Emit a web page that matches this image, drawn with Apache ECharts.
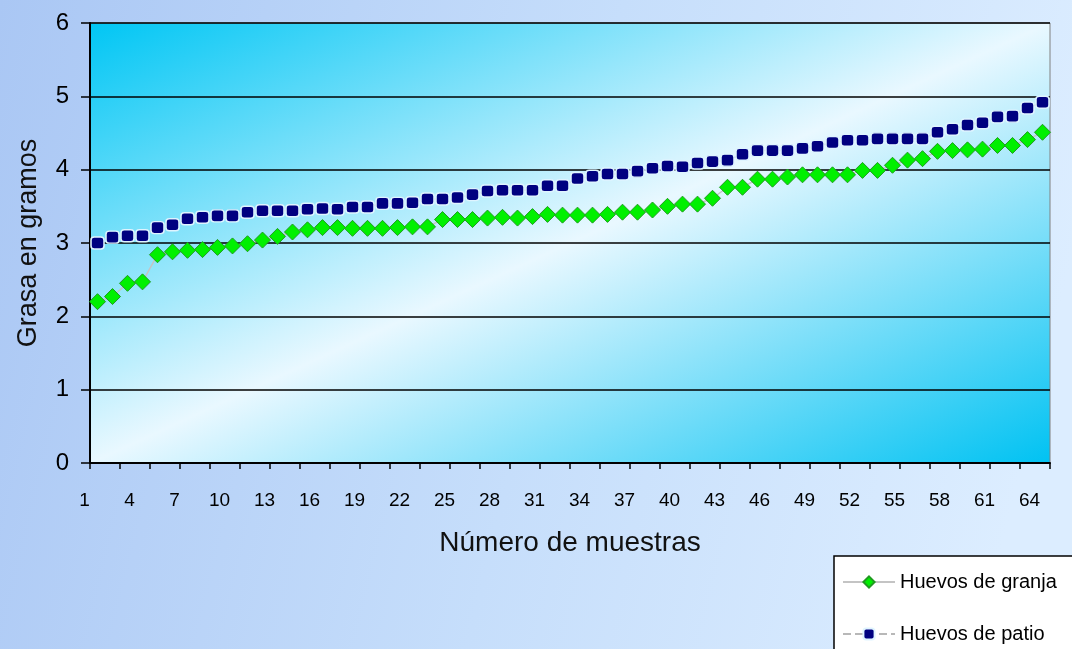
<!DOCTYPE html>
<html>
<head>
<meta charset="utf-8">
<title>Grasa en huevos</title>
<script src="https://cdn.jsdelivr.net/npm/echarts@6/dist/echarts.min.js"></script>
<style>
  html, body { margin: 0; padding: 0; background: #c4dcfa; }
  #chart { width: 1072px; height: 649px; }
</style>
</head>
<body>
<div id="chart"></div>
<script>
// Sample numbers (x axis categories)
const muestras = [
  1, 2, 3, 4, 5, 6, 7, 8, 9, 10, 11, 12, 13, 14, 15, 16,
  17, 18, 19, 20, 21, 22, 23, 24, 25, 26, 27, 28, 29, 30, 31, 32,
  33, 34, 35, 36, 37, 38, 39, 40, 41, 42, 43, 44, 45, 46, 47, 48,
  49, 50, 51, 52, 53, 54, 55, 56, 57, 58, 59, 60, 61, 62, 63, 64
];

// Fat content in grams, farm eggs (sorted)
const huevosGranja = [
  2.20, 2.27, 2.45, 2.47, 2.84, 2.88, 2.90, 2.91, 2.94, 2.96, 2.99, 3.04, 3.09, 3.15, 3.18, 3.21,
  3.21, 3.20, 3.20, 3.20, 3.21, 3.22, 3.22, 3.32, 3.32, 3.32, 3.34, 3.35, 3.34, 3.36, 3.39, 3.38,
  3.38, 3.38, 3.39, 3.42, 3.42, 3.45, 3.50, 3.53, 3.53, 3.61, 3.76, 3.76, 3.87, 3.87, 3.90, 3.93,
  3.93, 3.93, 3.93, 3.99, 3.99, 4.06, 4.13, 4.15, 4.25, 4.26, 4.27, 4.28, 4.33, 4.33, 4.41, 4.51
];

// Fat content in grams, backyard eggs (sorted)
const huevosPatio = [
  3.00, 3.08, 3.10, 3.10, 3.21, 3.25, 3.33, 3.35, 3.37, 3.37, 3.42, 3.44, 3.44, 3.44, 3.46, 3.47,
  3.46, 3.49, 3.49, 3.54, 3.54, 3.55, 3.60, 3.60, 3.62, 3.66, 3.71, 3.72, 3.72, 3.72, 3.78, 3.78,
  3.88, 3.91, 3.94, 3.94, 3.98, 4.02, 4.05, 4.04, 4.09, 4.11, 4.13, 4.21, 4.26, 4.26, 4.26, 4.29,
  4.32, 4.37, 4.40, 4.40, 4.42, 4.42, 4.42, 4.42, 4.51, 4.55, 4.61, 4.64, 4.72, 4.73, 4.84, 4.92
];

// Y axis ticks
const yTicks = [0, 1, 2, 3, 4, 5, 6];

const FONT = "'Liberation Sans', Arial, sans-serif";
const chart = echarts.init(document.getElementById('chart'), null, { renderer: 'canvas' });

chart.setOption({
  animation: false,
  backgroundColor: new echarts.graphic.LinearGradient(0, 0, 1, 0.4, [
    { offset: 0, color: '#aac7f4' },
    { offset: 0.55, color: '#c6defb' },
    { offset: 1, color: '#dcedff' }
  ]),
  textStyle: { fontFamily: FONT },
  grid: {
    left: 90, right: 22, top: 23, bottom: 186,
    outerBoundsMode: 'none',
    containLabel: false,
    show: true,
    borderColor: '#808080',
    borderWidth: 1,
    backgroundColor: new echarts.graphic.LinearGradient(0.326, -0.326, 0.674, 1.326, [
      { offset: 0, color: '#00c6f4' },
      { offset: 0.5, color: '#e9f8ff' },
      { offset: 1, color: '#00c2f2' }
    ])
  },
  legend: {
    orient: 'vertical',
    left: 834,
    top: 556,
    height: 140,
    backgroundColor: '#ffffff',
    borderColor: '#000000',
    borderWidth: 1.5,
    padding: [16, 30, 14, 8],
    itemWidth: 52,
    itemHeight: 14,
    itemGap: 32,
    textStyle: { fontSize: 20, color: '#000', fontFamily: FONT },
    data: ['Huevos de granja', 'Huevos de patio']
  },
  xAxis: {
    type: 'category',
    data: muestras,
    boundaryGap: true,
    name: 'Número de muestras',
    nameLocation: 'middle',
    nameGap: 66,
    nameMoveOverlap: false,
    nameTextStyle: { fontSize: 28, color: '#111', fontFamily: FONT },
    axisLine: { lineStyle: { color: '#000', width: 2 } },
    axisTick: { show: true, interval: 1, length: 6, lineStyle: { color: '#000', width: 1.5 } },
    axisLabel: {
      interval: 2,
      margin: 28,
      fontSize: 19,
      color: '#000',
      fontFamily: FONT,
      padding: [0, 26, 0, 0]
    },
    splitLine: { show: false }
  },
  yAxis: {
    type: 'value',
    min: yTicks[0],
    max: yTicks[yTicks.length - 1],
    interval: 1,
    name: 'Grasa en gramos',
    nameLocation: 'middle',
    nameGap: 48,
    nameMoveOverlap: false,
    nameTextStyle: { fontSize: 27, color: '#111', fontFamily: FONT },
    axisLine: { show: true, lineStyle: { color: '#000', width: 2 } },
    axisTick: { show: true, length: 9, lineStyle: { color: '#000', width: 1.5 } },
    axisLabel: { margin: 21, fontSize: 24, color: '#000', fontFamily: FONT },
    splitLine: { show: true, lineStyle: { color: '#000', width: 1.5 } }
  },
  series: [
    {
      name: 'Huevos de granja',
      type: 'line',
      data: huevosGranja,
      symbol: 'diamond',
      symbolSize: 16,
      showAllSymbol: true,
      itemStyle: { color: '#00f000', borderColor: '#1f9a1f', borderWidth: 1 },
      lineStyle: { color: '#c4c4c4', width: 1.5 },
      z: 3
    },
    {
      name: 'Huevos de patio',
      type: 'line',
      data: huevosPatio,
      symbol: 'roundRect',
      symbolSize: [13, 12],
      showAllSymbol: true,
      itemStyle: { color: '#000080', borderColor: '#dff4ff', borderWidth: 1.5 },
      lineStyle: { color: '#b8b8b8', width: 1.5, type: 'dashed' },
      z: 4
    }
  ]
});
</script>
</body>
</html>
